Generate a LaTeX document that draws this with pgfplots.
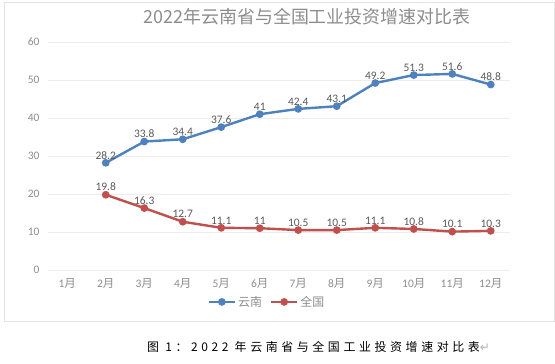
\documentclass[border=0pt]{standalone}
\usepackage{fontspec}
\setmainfont{Carlito}
\newfontfamily\cjk{Noto Sans CJK SC}
\newfontfamily\capfont[LetterSpace=30]{Noto Sans CJK SC}
\newfontfamily\sym{DejaVu Sans}
\usepackage{pgfplots}
\pgfplotsset{compat=1.18}
\definecolor{yn}{HTML}{4F81BD}
\definecolor{qg}{HTML}{C0504D}
\definecolor{tickgray}{HTML}{8C8C8C}
\definecolor{lblgray}{HTML}{595959}
\definecolor{titlegray}{HTML}{8C8C8C}
\definecolor{gridgray}{HTML}{EDEDED}
\definecolor{framegray}{HTML}{E3E3E3}
\begin{document}
\begin{tikzpicture}
\useasboundingbox (0,0) rectangle (555bp,364bp);
\draw[framegray, line width=0.6bp] (4bp,362bp) rectangle (554.5bp,43bp);
\node[text=titlegray, font=\cjk\fontsize{18}{20}\selectfont] at (307bp,347bp) {2022年云南省与全国工业投资增速对比表};
\begin{axis}[
  at={(48bp,94bp)}, anchor=south west,
  scale only axis, width=462bp, height=228bp,
  xmin=-0.5, xmax=11.5, ymin=0, ymax=60,
  ytick={0,10,...,60},
  xtick={0,...,11},
  xticklabels={1\cjk{月},2\cjk{月},3\cjk{月},4\cjk{月},5\cjk{月},6\cjk{月},7\cjk{月},8\cjk{月},9\cjk{月},10\cjk{月},11\cjk{月},12\cjk{月}},
  axis line style={draw=none},
  major tick length=0pt,
  ymajorgrids, grid style={draw=gridgray, line width=0.6bp},
  tick label style={font=\fontsize{11.5}{13}\selectfont, text=tickgray},
  yticklabel style={xshift=-5bp},
  xticklabel style={yshift=-5bp},
  /pgf/number format/assume math mode=true,
  clip=false,
  nodes near coords,
  every node near coord/.style={font=\fontsize{11.5}{13}\selectfont, text=lblgray, anchor=south, inner sep=1bp, yshift=1.5bp},
  legend columns=2,
  legend style={draw=none, fill=none, at={(0.474,-0.14)}, anchor=center, font=\cjk\fontsize{12}{14}\selectfont, text=tickgray, /tikz/every even column/.append style={column sep=6bp}},
  legend image code/.code={\draw[#1] (0bp,0bp) -- (26bp,0bp); \draw[#1, mark repeat=1] plot coordinates {(13bp,0bp)};},
]
\addplot[yn, line width=2.4bp, mark=*, mark size=2.6bp, mark options={solid, fill=yn, draw=yn}] coordinates {
(1,28.2) (2,33.8) (3,34.4) (4,37.6) (5,41) (6,42.4) (7,43.1) (8,49.2) (9,51.3) (10,51.6) (11,48.8)};
\addlegendentry{云南}
\addplot[qg, line width=2.4bp, mark=*, mark size=2.6bp, mark options={solid, fill=qg, draw=qg}] coordinates {
(1,19.8) (2,16.3) (3,12.7) (4,11.1) (5,11) (6,10.5) (7,10.5) (8,11.1) (9,10.8) (10,10.1) (11,10.3)};
\addlegendentry{全国}
\end{axis}
\node[anchor=west, font=\capfont\fontsize{12}{14}\selectfont, text=black, inner sep=0pt] at (147bp,17bp) {图 1：2022 年云南省与全国工业投资增速对比表{\sym\color{gray!60}↵}};
\end{tikzpicture}
\end{document}
